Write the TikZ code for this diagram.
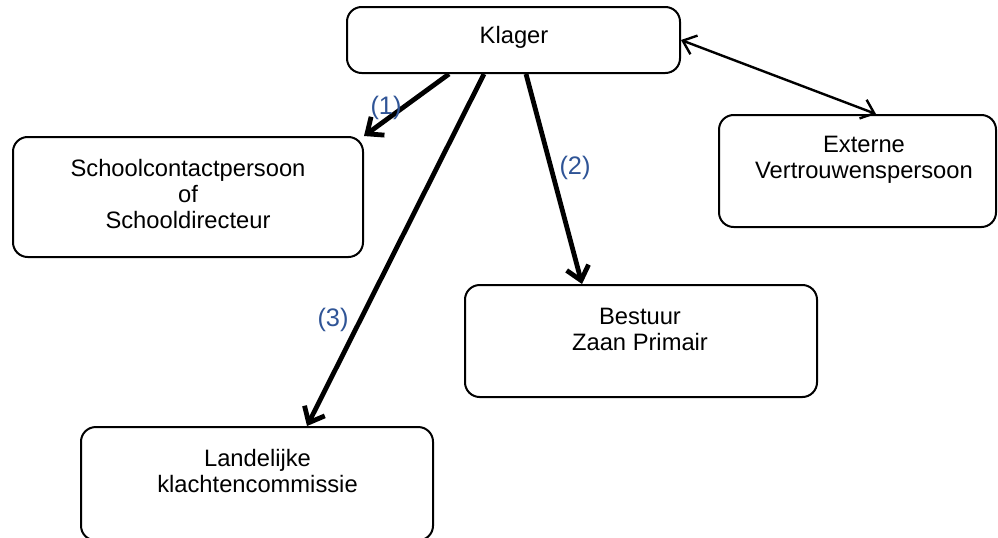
\documentclass[tikz,border=0pt]{standalone}
\usepackage{fontspec}
\setmainfont{Liberation Sans}
\usetikzlibrary{arrows.meta,calc}
\definecolor{labelblue}{RGB}{47,84,150}

\begin{document}
\begin{tikzpicture}[x=0.75pt,y=-0.75pt,
  box/.style={draw, line width=1.5pt, rounded corners=11pt, inner sep=0pt},
  boxtext/.style={anchor=north, inner sep=0pt, align=center,
    font=\fontsize{17.8}{19.5}\selectfont},
  route/.style={line width=3.6pt, -{Straight Barb[length=10pt,width=17pt]}},
  routelabel/.style={text=labelblue, font=\fontsize{19}{22}\selectfont},
  link/.style={line width=1.8pt,
    {Straight Barb[length=9pt,width=15pt]}-{Straight Barb[length=9pt,width=15pt]}}]
  \useasboundingbox (0,0) rectangle (998,537);

  % boxes
  \node[box, minimum width=249.75pt, minimum height=49.5pt] (klager) at (513.5,40) {};
  \node[box, minimum width=262.5pt, minimum height=90pt] (school) at (188,197) {};
  \node[box, minimum width=207.75pt, minimum height=84pt] (extern) at (857.5,171) {};
  \node[box, minimum width=264pt, minimum height=84pt] (bestuur) at (641,341) {};
  \node[box, minimum width=264pt, minimum height=85pt] (landelijk) at (257,483.7) {};

  % texts
  \node[boxtext, anchor=base] (klagertxt) at (514,43) {Klager};
  \node[boxtext] (schooltxt) at (188,159.5) {Schoolcontactpersoon\\of\\Schooldirecteur};
  \node[boxtext] (externtxt) at (864,136) {Externe\\Vertrouwenspersoon};
  \node[boxtext] (bestuurtxt) at (640,308) {Bestuur\\Zaan Primair};
  \node[boxtext] (landelijktxt) at (257.5,449.5) {Landelijke\\klachtencommissie};

  % routes
  \draw[route] ($(klager.south west)+(103,0)$) -- (school.north east);
  \draw[route] ($(klager.south west)+(180,0)$) -- ($(bestuur.north west)+(118,0)$);
  \draw[route] ($(klager.south west)+(138,0)$) -- ($(landelijk.north west)+(227,0)$);
  \draw[link] (klager.east) -- ($(extern.north west)+(158,0)$);

  \node[routelabel] (lab1) at (386,108) {(1)};
  \node[routelabel] (lab2) at (575,168) {(2)};
  \node[routelabel] (lab3) at (333,320) {(3)};
\end{tikzpicture}
\end{document}
